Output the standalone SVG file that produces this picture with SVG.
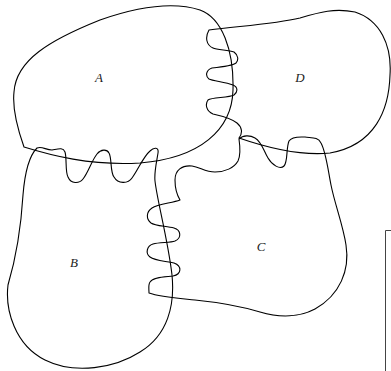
<svg xmlns="http://www.w3.org/2000/svg" width="391" height="371" viewBox="0 0 391 371">
  <style>
    .region { fill: none; stroke: #000; stroke-width: 1.1; stroke-linejoin: round; }
    .label { font-family: "Liberation Serif", "DejaVu Serif", serif; font-style: italic; font-size: 13px; fill: #222; text-anchor: middle; }
    .frame { fill: none; stroke: #444; stroke-width: 1; }
  </style>
  <rect width="391" height="371" fill="#fff"/>
  <g id="A">
    <path class="region" d="M 24,147 C 18,130 12,110 14,92 C 16,60 50,40 100,20 C 140,6 175,2 200,10 C 222,18 234,50 233,90 C 232,130 200,158 140,163 C 90,166 50,155 24,147 Z"/>
    <text class="label" x="99" y="82">A</text>
  </g>
  <g id="D">
    <path class="region" d="M 209,30 C 240,26 275,24 300,18 C 320,12 335,8 355,12 C 380,20 392,45 390,75 C 389,110 375,145 330,153 C 300,156 265,147 239,138 C 243,133 242,127 237,123 C 232,119 222,116 213,114 C 206,111 205,104 208,100 C 212,97 228,98 234,95 C 238,92 238,87 233,85 C 225,82 213,81 209,79 C 205,76 206,70 212,68 C 222,67 232,66 236,63 C 239,60 238,55 234,52 C 228,50 217,50 213,48 C 206,45 205,37 209,30 Z"/>
    <text class="label" x="300" y="82">D</text>
  </g>
  <g id="B">
    <path class="region" d="M 37,148 C 42,146 46,150 52,150 C 58,149 63,147 65,152 C 67,158 65,172 68,177 C 71,184 79,184 83,179 C 88,173 92,160 97,154 C 101,149 107,149 109,153 C 112,158 110,172 114,177 C 118,184 128,184 132,178 C 138,170 143,157 150,151 C 154,147 159,147 158,153 C 157,160 154,172 155,181 C 157,200 168,240 172,275 C 175,305 168,335 140,352 C 115,368 75,375 45,360 C 15,345 5,310 8,285 C 16,258 21,228 23,195 C 25,170 30,155 37,148 Z"/>
    <text class="label" x="74" y="267">B</text>
  </g>
  <g id="C">
    <path class="region" d="M 239,139 C 243,135 250,135 255,138 C 262,142 264,152 268,158 C 272,165 280,170 284,166 C 288,162 286,148 289,141 C 292,136 300,137 305,137 C 312,138 318,137 321,143 C 326,152 328,170 331,185 C 335,205 343,225 346,245 C 350,270 340,295 315,309 C 300,317 280,318 260,312 C 240,306 215,302 195,300 C 175,298 160,297 149,293 C 149,289 148,285 150,282 C 153,277 165,277 173,276 C 182,274 182,266 174,263 C 166,261 155,261 150,257 C 145,253 147,246 153,244 C 160,242 170,243 175,241 C 182,238 181,230 174,228 C 166,226 155,226 151,223 C 146,219 146,212 152,208 C 158,204 172,203 180,200 C 177,195 175,190 175,180 C 175,170 182,165 192,166 C 200,167 205,172 215,172 C 225,172 234,168 238,161 C 241,155 240,146 239,139 Z"/>
    <text class="label" x="261" y="251">C</text>
  </g>
  <g id="frame">
    <path class="frame" d="M 391,230.5 H 385.5 V 371"/>
  </g>
</svg>
